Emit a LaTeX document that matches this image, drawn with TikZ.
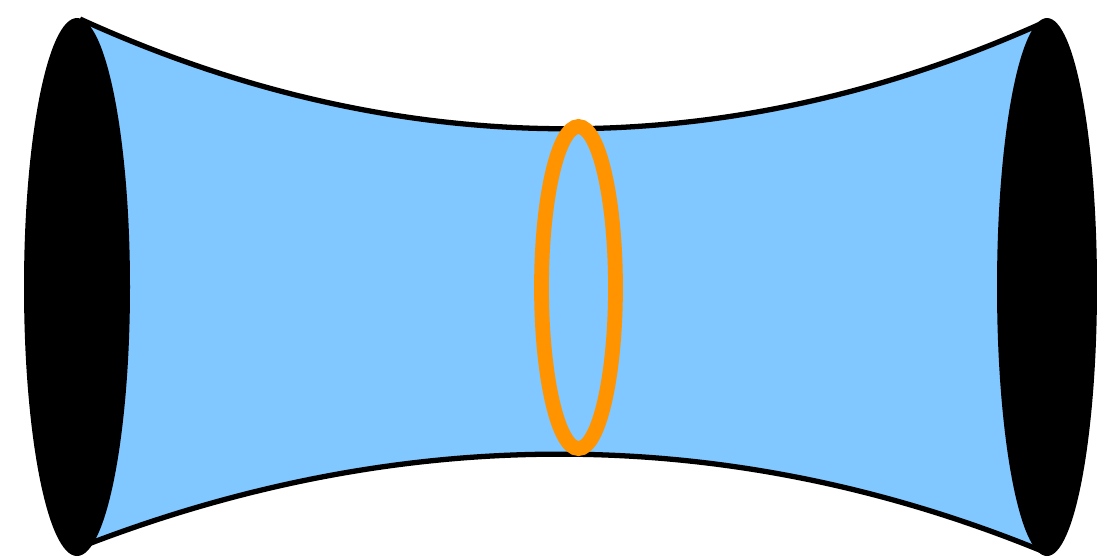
\documentclass[tikz,border=0pt]{standalone}
\usepackage{tikz}
\definecolor{tubeblue}{RGB}{128,200,255}
\definecolor{ringorange}{RGB}{255,148,0}

\begin{document}
\begin{tikzpicture}[x=0.01cm, y=-0.01cm]
\useasboundingbox (0,0) rectangle (1097,556);

% ---- tube body ----
\fill[tubeblue] (80,19) .. controls (400,165) and (730,165) .. (1047,21)
  -- (1047,553) .. controls (730,422) and (400,422) .. (78,548) -- cycle;
\draw[line width=1.5pt] (80,19) .. controls (400,165) and (730,165) .. (1047,21);
\draw[line width=1.5pt] (78,548) .. controls (400,422) and (730,422) .. (1047,553);

% ---- end caps ----
\fill[black] (77,287) ellipse (53 and 269);
\fill[black] (1047,287) ellipse (50 and 269);

% ---- waist loop ----
\draw[ringorange, line width=4.2pt] (578.5,287.5) ellipse (37 and 161);
\end{tikzpicture}
\end{document}
